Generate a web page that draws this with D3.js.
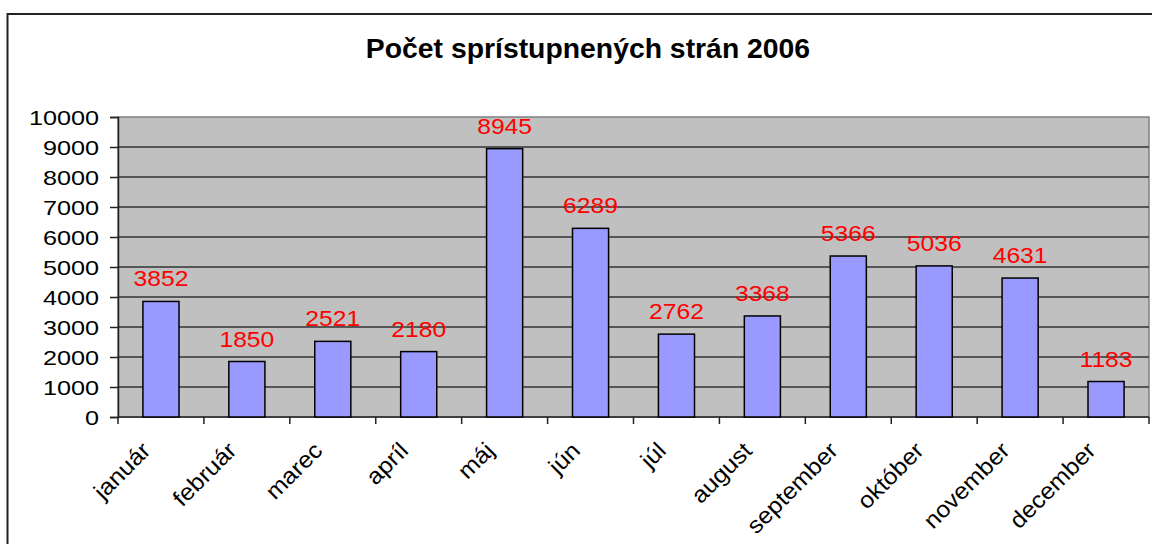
<!DOCTYPE html>
<html>
<head>
<meta charset="utf-8">
<script src="https://cdn.jsdelivr.net/npm/d3@7"></script>
<style>
  body { margin: 0; background: #fff; }
  text { font-family: "Liberation Sans", Arial, sans-serif; }
</style>
</head>
<body>
<svg id="chart" width="1152" height="544"></svg>
<script>
const months = ["január", "február", "marec", "apríl", "máj", "jún", "júl", "august", "september", "október", "november", "december"];
const pages = [3852, 1850, 2521, 2180, 8945, 6289, 2762, 3368, 5366, 5036, 4631, 1183];
const yTicks = [0, 1000, 2000, 3000, 4000, 5000, 6000, 7000, 8000, 9000, 10000];
const title = "Počet sprístupnených strán 2006";

const width = 1152, height = 544;
const margin = { left: 118, right: 3, top: 117, bottom: 127 };

const svg = d3.select("#chart");

// the old chart's text is a bit wider than Liberation Sans, stretch it
function widen(sel, k) {
    sel.each(function() {
        const w = this.getComputedTextLength();
        d3.select(this).attr("textLength", w * k).attr("lengthAdjust", "spacingAndGlyphs");
    });
}

// outer chart border (runs off right/bottom edge like the original)
svg.append("rect")
    .attr("x", 7.5).attr("y", 14)
    .attr("width", 1160).attr("height", 560)
    .attr("fill", "#fff")
    .attr("stroke", "#222")
    .attr("stroke-width", 2);

const x = d3.scaleBand()
    .domain(months)
    .range([margin.left, width - margin.right])
    .paddingInner(0.58)
    .paddingOuter(0.29);

const y = d3.scaleLinear()
    .domain([0, 10000])
    .range([height - margin.bottom, margin.top]);

const step = x.step();

// plot background
svg.append("rect")
    .attr("x", margin.left)
    .attr("y", y(10000))
    .attr("width", width - margin.right - margin.left)
    .attr("height", y(0) - y(10000))
    .attr("fill", "#C0C0C0")
    .attr("stroke", "#808080")
    .attr("stroke-width", 1.5);

// gridlines
svg.append("g")
    .selectAll("line")
    .data(yTicks.slice(1, -1))
    .enter()
    .append("line")
    .attr("x1", margin.left)
    .attr("x2", width - margin.right)
    .attr("y1", d => y(d))
    .attr("y2", d => y(d))
    .attr("stroke", "#333")
    .attr("stroke-width", 1.5);

// y axis
const yAxis = svg.append("g")
    .attr("transform", `translate(${margin.left},0)`)
    .call(d3.axisLeft(y).tickValues(yTicks).tickSize(8).tickPadding(11).tickFormat(d3.format("d")));
yAxis.selectAll("path, line").attr("stroke", "#222").attr("stroke-width", 1.5);
yAxis.selectAll("text").style("font-size", "21px").attr("fill", "#000").attr("dy", "0.36em");
widen(yAxis.selectAll("text"), 1.2);

// x axis line + ticks at band boundaries
svg.append("line")
    .attr("x1", margin.left).attr("x2", width - margin.right)
    .attr("y1", y(0)).attr("y2", y(0))
    .attr("stroke", "#222").attr("stroke-width", 1.5);
svg.append("g")
    .selectAll("line")
    .data(d3.range(months.length + 1))
    .enter()
    .append("line")
    .attr("x1", i => margin.left + i * step)
    .attr("x2", i => margin.left + i * step)
    .attr("y1", y(0))
    .attr("y2", y(0) + 7)
    .attr("stroke", "#222")
    .attr("stroke-width", 1.5);

// x labels
const xLabels = svg.append("g")
    .selectAll("text")
    .data(months)
    .enter()
    .append("text")
    .attr("transform", d => `translate(${x(d) + x.bandwidth() / 2 - 9},${y(0) + 35}) rotate(-45)`)
    .attr("text-anchor", "end")
    .style("font-size", "23px")
    .text(d => d);
widen(xLabels, 1.08);

// bars
svg.append("g")
    .selectAll("rect")
    .data(pages)
    .enter()
    .append("rect")
    .attr("x", (d, i) => x(months[i]))
    .attr("y", d => y(d))
    .attr("width", x.bandwidth())
    .attr("height", d => y(0) - y(d))
    .attr("fill", "#9999FF")
    .attr("stroke", "#000")
    .attr("stroke-width", 1.5);

// value labels
const valLabels = svg.append("g")
    .selectAll("text")
    .data(pages)
    .enter()
    .append("text")
    .attr("x", (d, i) => x(months[i]) + x.bandwidth() / 2)
    .attr("y", d => y(d) - 15)
    .attr("text-anchor", "middle")
    .attr("fill", "#FF0000")
    .style("font-size", "22px")
    .text(d => d);
widen(valLabels, 1.12);

const t = svg.append("text")
    .attr("x", 588)
    .attr("y", 58)
    .attr("text-anchor", "middle")
    .style("font-size", "27px")
    .style("font-weight", "bold")
    .text(title);
widen(t, 1.05);
</script>
</body>
</html>
